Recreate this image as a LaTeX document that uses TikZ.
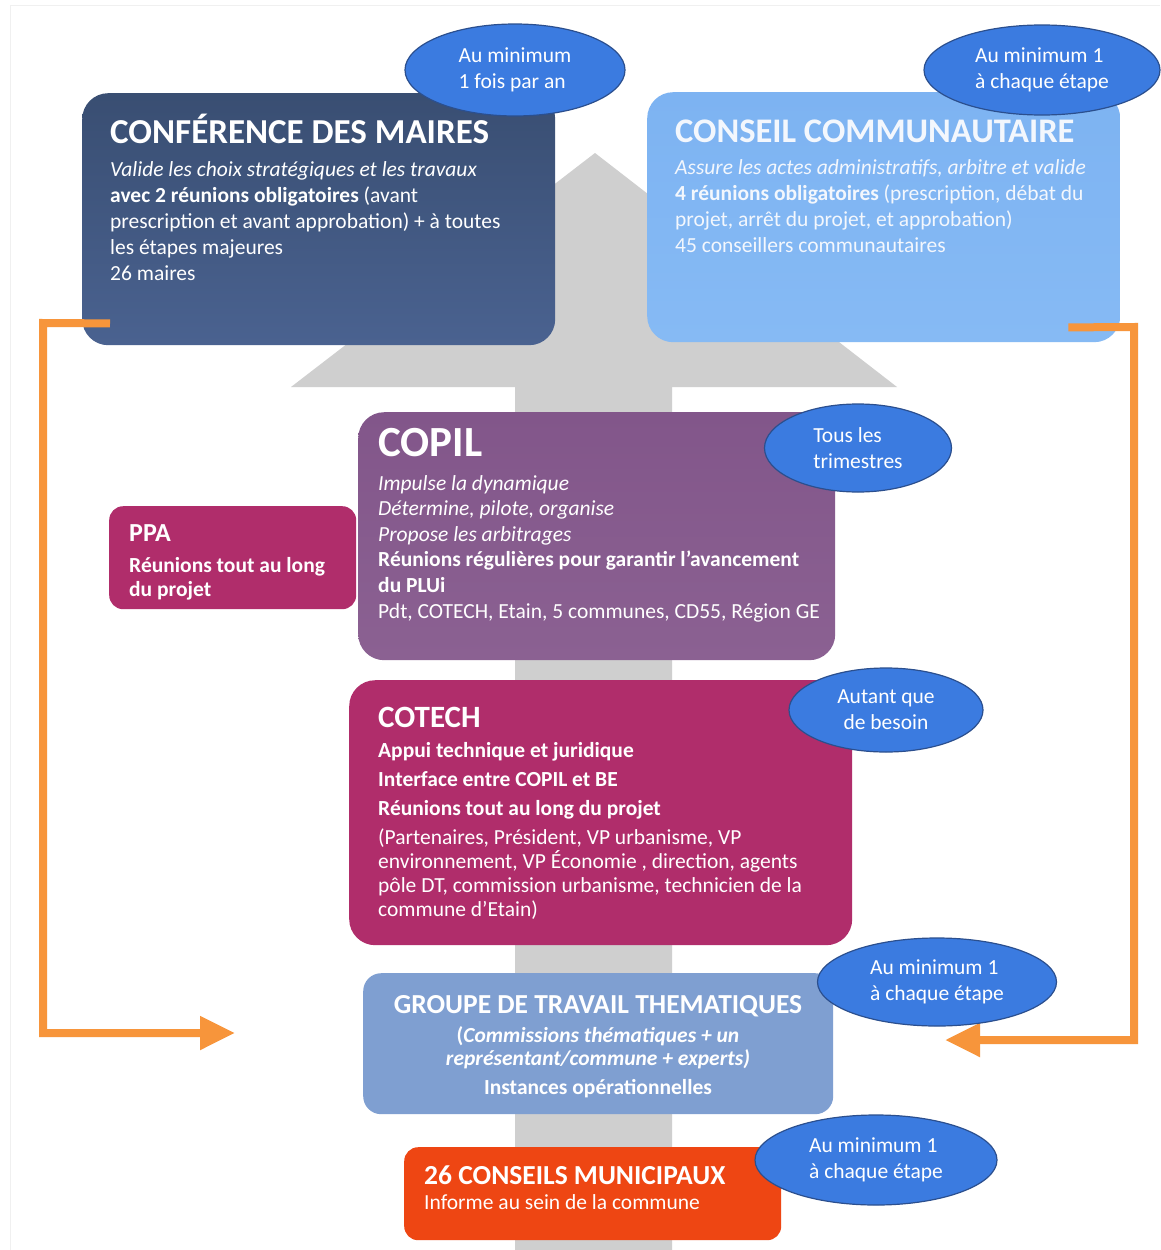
\documentclass[tikz,border=0pt]{standalone}
\usepackage{fontspec}
\setmainfont{Carlito}
\usetikzlibrary{shapes,arrows.meta,positioning,calc}

\definecolor{grisFleche}{HTML}{CFCFCF}
\definecolor{orangeLien}{HTML}{F7953B}
\definecolor{bleuBulle}{HTML}{3B7BE0}
\definecolor{bordBulle}{HTML}{2B4F8E}
\definecolor{marineHaut}{HTML}{394E72}
\definecolor{marineBas}{HTML}{4A6290}
\definecolor{ciel}{HTML}{7DB3F2}
\definecolor{cielBas}{HTML}{86BAF4}
\definecolor{violet}{HTML}{82568A}
\definecolor{violetBas}{HTML}{8B6192}
\definecolor{framboise}{HTML}{B02D6B}
\definecolor{acier}{HTML}{7F9FD1}
\definecolor{vermillon}{HTML}{EE4613}
\definecolor{texteClair}{HTML}{F3F7FD}

\newcommand{\corpsTexte}{\fontsize{21.5}{26}\selectfont}
\newcommand{\titreBoite}[2]{{\fontsize{#1}{#1}\selectfont\bfseries #2}}

\begin{document}
\begin{tikzpicture}[x=1pt,y=-1pt,
    boite/.style={rounded corners=26pt, inner sep=0pt, anchor=north west},
    bulle/.style={ellipse, draw=bordBulle, line width=1.2pt, fill=bleuBulle,
        text=white, align=left, inner sep=0pt, font=\corpsTexte},
    texte/.style={anchor=base west, inner sep=0pt, align=left, text=white, font=\corpsTexte},
    lien/.style={draw=orangeLien, line width=8pt, -{Triangle[length=35pt,width=32pt]}}]

    \useasboundingbox (0,0) rectangle (1160,1250);
    \fill[white] (0,0) rectangle (1160,1250);
    \draw[gray!12, line width=1pt] (10,1250) -- (10,5) -- (1160,5);

    % Grande fleche grise
    \fill[grisFleche] (515,1250) -- (515,387) -- (291,387) -- (595,153)
        -- (897,387) -- (672,387) -- (672,1250) -- cycle;

    % Boites
    \node[boite, minimum width=473pt, minimum height=252pt,
        top color=marineHaut, bottom color=marineBas] (cdm) at (82,93) {};
    \node[boite, minimum width=473pt, minimum height=250pt,
        top color=ciel, bottom color=cielBas] (cc) at (647,92) {};
    \node[boite, minimum width=477pt, minimum height=248pt,
        top color=violet, bottom color=violetBas] (copil) at (358,412) {};
    \node[boite, rounded corners=14pt, minimum width=247pt, minimum height=103pt,
        fill=framboise] (ppa) at (109,506) {};
    \node[boite, minimum width=503pt, minimum height=265pt,
        fill=framboise] (cotech) at (349,680) {};
    \node[boite, rounded corners=18pt, minimum width=470pt, minimum height=141pt,
        fill=acier] (gt) at (363,973) {};
    \node[boite, rounded corners=14pt, minimum width=377pt, minimum height=93pt,
        fill=vermillon] (cm) at (404,1147) {};

    % Textes des boites (placés par la ligne de base de la derniere ligne)
    \node[texte] (cdmTxt) at (110,280) {\titreBoite{35}{CONFÉRENCE DES MAIRES}\\[7pt]
        \textit{Valide les choix stratégiques et les travaux}\\
        \textbf{avec 2 réunions obligatoires} (avant\\
        prescription et avant approbation) + à toutes\\
        les étapes majeures\\
        26 maires};
    \node[texte, text=texteClair] (ccTxt) at (675,252) {\titreBoite{34.5}{CONSEIL COMMUNAUTAIRE}\\[6pt]
        \textit{Assure les actes administratifs, arbitre et valide}\\
        \textbf{4 réunions obligatoires} (prescription, débat du\\
        projet, arrêt du projet, et approbation)\\
        45 conseillers communautaires};
    \node[texte, font=\fontsize{21.5}{25.6}\selectfont] (copilTxt) at (378,618) {\titreBoite{43}{COPIL}\\[8pt]
        \textit{Impulse la dynamique}\\
        \textit{Détermine, pilote, organise}\\
        \textit{Propose les arbitrages}\\
        \textbf{Réunions régulières pour garantir l’avancement}\\
        \textbf{du PLUi}\\
        Pdt, COTECH, Etain, 5 communes, CD55, Région GE};
    \node[texte, font=\fontsize{21.5}{24}\selectfont] (ppaTxt) at (129,596) {\titreBoite{26}{PPA}\\[7pt]
        \textbf{Réunions tout au long}\\
        \textbf{du projet}};
    \node[texte, font=\fontsize{21.5}{24}\selectfont] (cotechTxt) at (378,916) {\titreBoite{31}{COTECH}\\[6pt]
        \textbf{Appui technique et juridique}\\[5pt]
        \textbf{Interface entre COPIL et BE}\\[5pt]
        \textbf{Réunions tout au long du projet}\\[5pt]
        (Partenaires, Président, VP urbanisme, VP\\
        environnement, VP Économie , direction, agents\\
        pôle DT, commission urbanisme, technicien de la\\
        commune d’Etain)};
    \node[texte, anchor=base, align=center, font=\fontsize{21.5}{23}\selectfont] (gtTxt) at (598,1094)
        {\titreBoite{27.5}{GROUPE DE TRAVAIL THEMATIQUES}\\[6pt]
        \textbf{(\textit{Commissions thématiques + un}}\\
        \textbf{\textit{représentant/commune + experts)}}\\[6pt]
        \textbf{Instances opérationnelles}};
    \node[texte, font=\fontsize{21.5}{25}\selectfont] (cmTxt) at (424,1209) {\titreBoite{27.5}{26 CONSEILS MUNICIPAUX}\\
        Informe au sein de la commune};

    % Liens orange
    \coordinate (departG) at ($(cdm.south west)+(28,-22)$);
    \coordinate (pointeG) at (235,1033);
    \coordinate (departD) at ($(cc.south east)+(-52,-15)$);
    \coordinate (pointeD) at (945,1040);
    \draw[lien] (departG) -- (43,323) |- (pointeG);
    \draw[lien] (departD) -- (1134,327) |- (pointeD);

    % Bulles de frequence
    \node[bulle, minimum width=220pt, minimum height=92pt] (b1) at (515,70) {Au minimum\\1 fois par an};
    \node[bulle, minimum width=236pt, minimum height=90pt] (b2) at (1042,70) {Au minimum 1\\à chaque étape};
    \node[bulle, minimum width=187pt, minimum height=88pt] (b3) at (858,448) {Tous les\\trimestres};
    \node[bulle, align=center, minimum width=194pt, minimum height=84pt] (b4) at (886,710) {Autant que\\de besoin};
    \node[bulle, minimum width=239pt, minimum height=88pt] (b5) at (937,982) {Au minimum 1\\à chaque étape};
    \node[bulle, minimum width=242pt, minimum height=90pt] (b6) at (876,1160) {Au minimum 1\\à chaque étape};
\end{tikzpicture}
\end{document}
